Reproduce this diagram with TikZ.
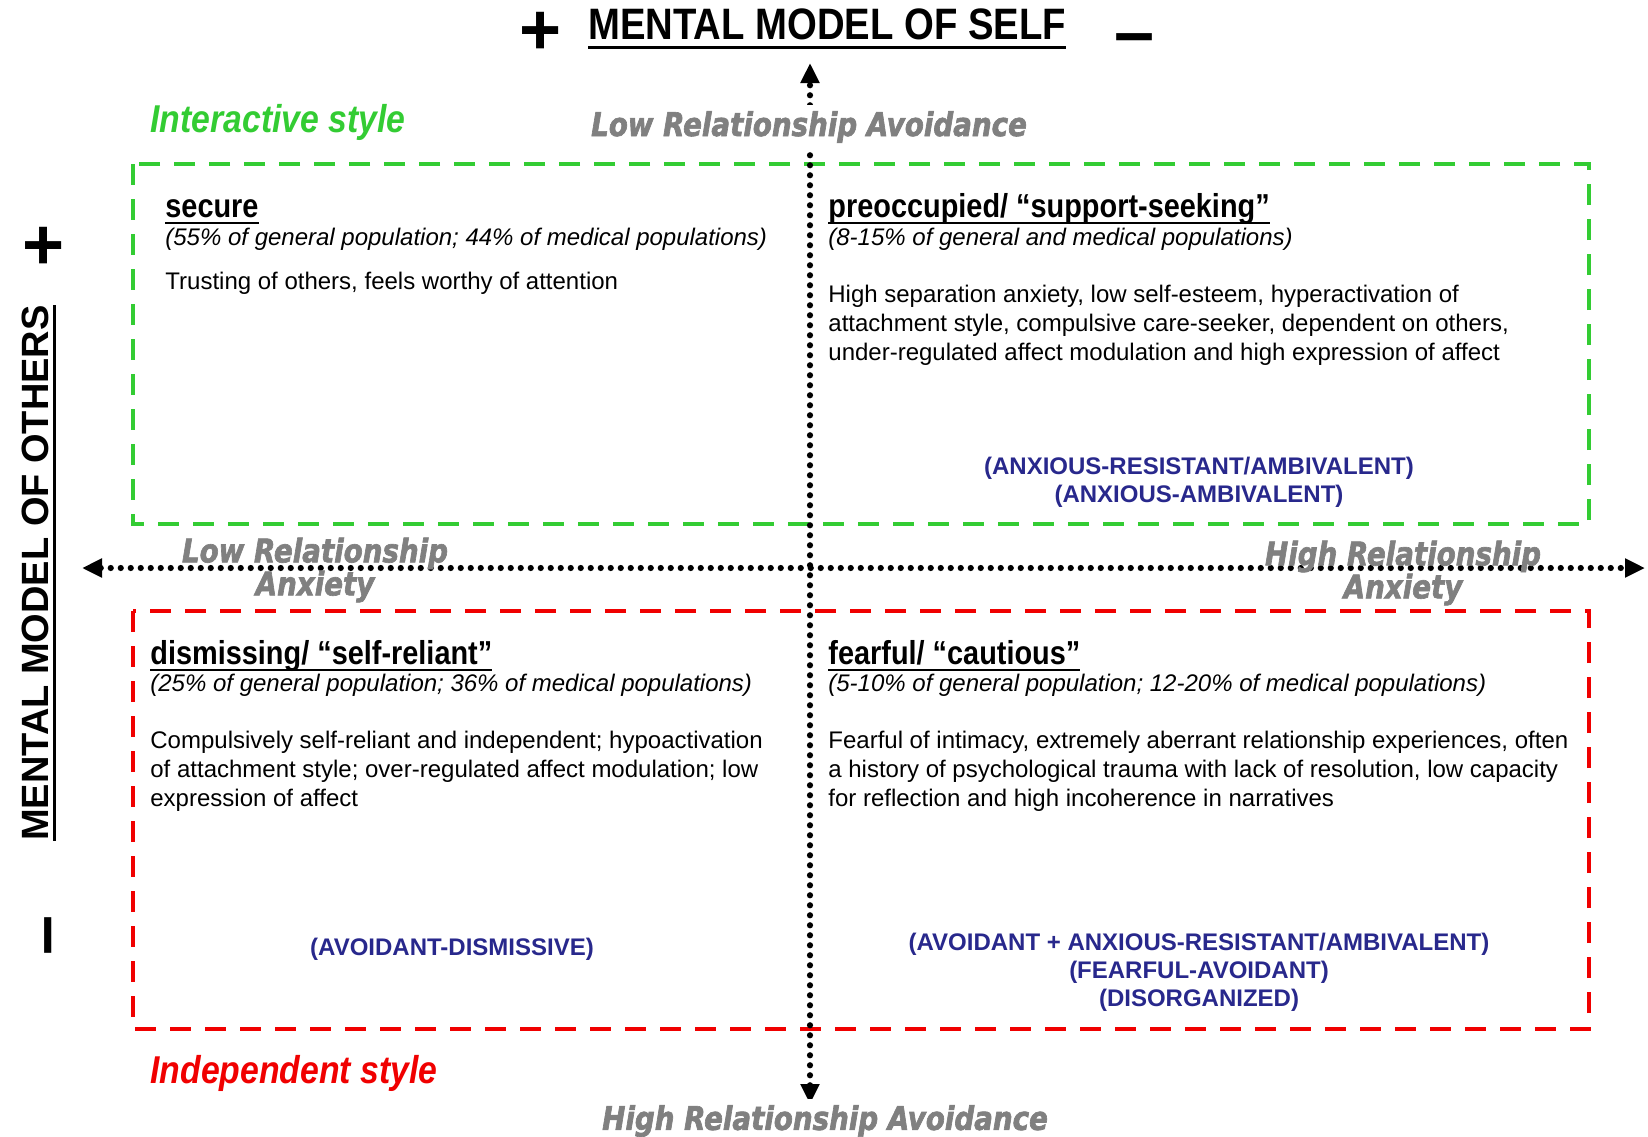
\documentclass[tikz,border=0pt]{standalone}
\usepackage{fontspec}
\setmainfont{Liberation Sans}
\newfontfamily\narrowfont{Liberation Sans}[FakeStretch=0.87]
\newfontfamily\axisfont{DejaVu Sans}[FakeStretch=0.85, FakeBold=2]
\usetikzlibrary{arrows.meta}
\definecolor{stylegreen}{RGB}{51,204,51}
\definecolor{stylered}{RGB}{240,0,0}
\definecolor{axisgray}{RGB}{128,128,128}
\definecolor{tagblue}{RGB}{40,40,140}
\newcommand{\thickul}[2]{\setbox0=\hbox{#2}\leavevmode\rlap{\rule[-0.2em]{\wd0}{#1}}\box0}

\begin{document}
\begin{tikzpicture}[x=0.5pt, y=-0.5pt,
  every node/.style={inner sep=0pt},
  quad head/.style={anchor=base west, font=\narrowfont\fontsize{16.6}{19}\selectfont\bfseries},
  quad pop/.style={anchor=base west, font=\fontsize{12}{14.4}\selectfont\itshape},
  quad body/.style={anchor=base west, align=left, font=\fontsize{12}{14.4}\selectfont},
  blue tag/.style={align=center, text=tagblue, font=\fontsize{12}{14.1}\selectfont\bfseries},
  axis label/.style={align=center, text=axisgray, font=\axisfont\fontsize{16.3}{16.5}\selectfont\bfseries\itshape},
  style label/.style={anchor=base west, font=\narrowfont\fontsize{19.4}{22}\selectfont\bfseries\itshape},
  sign/.style={font=\fontsize{36}{36}\selectfont\bfseries},
  dot line/.style={line width=3.1pt, line cap=round, dash pattern=on 0pt off 5pt},
  box line/.style={line width=2.3pt, dash pattern=on 10.5pt off 7pt}]
\useasboundingbox (0,0) rectangle (1648,1136);

% style boxes
\draw[box line, stylegreen] (133,164) rectangle (1589,524);
\draw[box line, stylered] (133,611) rectangle (1589,1029);

% axes
\coordinate (avoid top) at (810,63);
\coordinate (avoid bottom) at (810,1104);
\coordinate (anx left) at (82,568);
\coordinate (anx right) at (1645,568);
\draw[dot line, {Triangle[length=10pt,width=9pt]}-{Triangle[length=10pt,width=9pt]}] (avoid bottom) -- (avoid top);
\draw[dot line, {Triangle[length=10pt,width=9pt]}-{Triangle[length=10pt,width=9pt]}] (anx left) -- (anx right);

% titles
\node[font=\narrowfont\fontsize{22}{24}\selectfont\bfseries] (self) at (827,29) {\thickul{1.6pt}{MENTAL MODEL OF SELF}};
\node[sign] (self plus) at (541,33) {+};
\node[sign] (self minus) at (1135,45) {–};
\node[rotate=90, anchor=base, font=\fontsize{19}{22}\selectfont\bfseries] (others) at (48,573) {\thickul{1.4pt}{MENTAL MODEL OF OTHERS}};
\node[sign] (others plus) at (44,248) {+};
\node[sign, rotate=90] (others minus) at (56,935) {–};

\node[axis label, fill=white, inner sep=3pt] (low avoid) at (809,127) {Low Relationship Avoidance};
\node[axis label, fill=white, inner sep=3pt] (high avoid) at (825,1121) {High Relationship Avoidance};
\node[axis label] (low anx) at (315,570) {Low Relationship\\Anxiety};
\node[axis label] (high anx) at (1403,573) {High Relationship\\Anxiety};

\node[style label, text=stylegreen] (interactive) at (150,132) {Interactive style};
\node[style label, text=stylered] (independent) at (150,1083) {Independent style};

% secure
\node[quad head] (secure) at (165,217) {\thickul{1pt}{secure}};
\node[quad pop] (secure pop) at (165,245) {(55\% of general population; 44\% of medical populations)};
\node[quad body] (secure body) at (165,289) {Trusting of others, feels worthy of attention};

% preoccupied
\node[quad head] (preocc) at (828,217) {\thickul{1pt}{preoccupied/ “support-seeking”}};
\node[quad pop] (preocc pop) at (828,245) {(8-15\% of general and medical populations)};
\node[quad body] (preocc body) at (828,360) {High separation anxiety, low self-esteem, hyperactivation of\\attachment style, compulsive care-seeker, dependent on others,\\under-regulated affect modulation and high expression of affect};
\node[blue tag] (preocc tag) at (1199,482) {(ANXIOUS-RESISTANT/AMBIVALENT)\\(ANXIOUS-AMBIVALENT)};

% dismissing
\node[quad head] (dismiss) at (150,664) {\thickul{1pt}{dismissing/ “self-reliant”}};
\node[quad pop] (dismiss pop) at (150,691) {(25\% of general population; 36\% of medical populations)};
\node[quad body] (dismiss body) at (150,806) {Compulsively self-reliant and independent; hypoactivation\\of attachment style; over-regulated affect modulation; low\\expression of affect};
\node[blue tag] (dismiss tag) at (452,949) {(AVOIDANT-DISMISSIVE)};

% fearful
\node[quad head] (fearful) at (828,664) {\thickul{1pt}{fearful/ “cautious”}};
\node[quad pop] (fearful pop) at (828,691) {(5-10\% of general population; 12-20\% of medical populations)};
\node[quad body] (fearful body) at (828,806) {Fearful of intimacy, extremely aberrant relationship experiences, often\\a history of psychological trauma with lack of resolution, low capacity\\for reflection and high incoherence in narratives};
\node[blue tag] (fearful tag) at (1199,972) {(AVOIDANT + ANXIOUS-RESISTANT/AMBIVALENT)\\(FEARFUL-AVOIDANT)\\(DISORGANIZED)};
\end{tikzpicture}
\end{document}
